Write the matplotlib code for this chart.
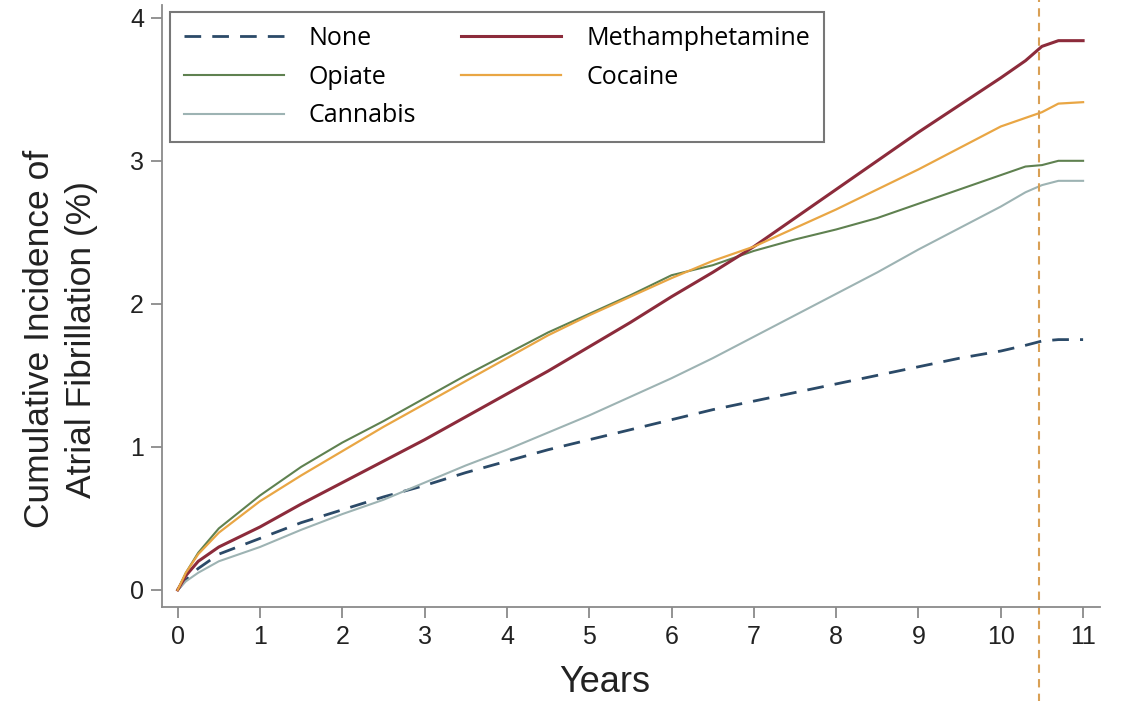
import numpy as np
import matplotlib.pyplot as plt

plt.rcParams['font.family'] = ['Liberation Sans', 'DejaVu Sans']

# years of follow-up where values were read
years = [0, 0.1, 0.25, 0.5, 1, 1.5, 2, 2.5, 3, 3.5, 4, 4.5, 5, 5.5, 6, 6.5, 7,
         7.5, 8, 8.5, 9, 9.5, 10, 10.3, 10.5, 10.7, 11]

none_ = [0, 0.07, 0.15, 0.25, 0.36, 0.47, 0.56, 0.65, 0.73, 0.82, 0.9, 0.98,
         1.05, 1.12, 1.19, 1.26, 1.32, 1.38, 1.44, 1.5, 1.56, 1.62, 1.67, 1.71, 1.74, 1.75, 1.75]
meth = [0, 0.1, 0.2, 0.3, 0.44, 0.6, 0.75, 0.9, 1.05, 1.21, 1.37, 1.53, 1.7, 1.87,
        2.05, 2.22, 2.4, 2.6, 2.8, 3.0, 3.2, 3.39, 3.58, 3.7, 3.8, 3.84, 3.84]
cocaine = [0, 0.12, 0.25, 0.4, 0.62, 0.8, 0.97, 1.14, 1.3, 1.46, 1.62, 1.78, 1.92,
           2.05, 2.18, 2.3, 2.4, 2.53, 2.66, 2.8, 2.94, 3.09, 3.24, 3.3, 3.34, 3.4, 3.41]
opiate = [0, 0.12, 0.26, 0.43, 0.66, 0.86, 1.03, 1.18, 1.34, 1.5, 1.65, 1.8, 1.93,
          2.06, 2.2, 2.27, 2.37, 2.45, 2.52, 2.6, 2.7, 2.8, 2.9, 2.96, 2.97, 3.0, 3.0]
cannabis = [0, 0.06, 0.12, 0.2, 0.3, 0.42, 0.53, 0.63, 0.75, 0.87, 0.98, 1.1, 1.22,
            1.35, 1.48, 1.62, 1.77, 1.92, 2.07, 2.22, 2.38, 2.53, 2.68, 2.78, 2.83, 2.86, 2.86]

cutoff = 10.47

fig = plt.figure(figsize=(11.22, 7.01), dpi=100)
ax = fig.add_axes([0.1444, 0.134, 0.8356, 0.859])

ax.plot(years, none_, color='#2b4a68', lw=2.0, ls=(0, (6, 4)), label='None')
ax.plot(years, opiate, color='#5f8150', lw=1.5, label='Opiate')
ax.plot(years, cannabis, color='#9db3b3', lw=1.5, label='Cannabis')
ax.plot(years, meth, color='#8c2b3b', lw=2.2, label='Methamphetamine')
ax.plot(years, cocaine, color='#e9a644', lw=1.6, label='Cocaine')

# vertical dotted marker runs over the whole figure height
ax.axvline(cutoff, ymin=-0.16, ymax=1.02, color='#d9a055', lw=1.5,
           ls=(0, (4, 3)), clip_on=False)

ax.set_xlim(-0.19, 11.2)
ax.set_ylim(-0.12, 4.09)
ax.set_xticks(range(0, 12))
ax.set_yticks(range(0, 5))
for s in ['top', 'right']:
    ax.spines[s].set_visible(False)
for s in ['left', 'bottom']:
    ax.spines[s].set_color('#8a8a8a')
    ax.spines[s].set_linewidth(1.3)
ax.tick_params(direction='out', length=8, width=1.3, color='#8a8a8a',
               labelsize=18, labelcolor='#222222', pad=5)

ax.set_xlabel('Years', fontsize=26, color='#222222')
ax.xaxis.set_label_coords(0.472, -0.097)
ax.set_ylabel('Cumulative Incidence of\nAtrial Fibrillation (%)', fontsize=25.5,
              color='#222222', linespacing=1.35)
ax.yaxis.set_label_coords(-0.068, 0.445)

leg = ax.legend(loc='upper left', bbox_to_anchor=(0.0085, 0.988), ncol=2,
                frameon=True, fancybox=False, handlelength=4.0,
                handletextpad=1.0, columnspacing=1.8, labelspacing=0.55,
                borderpad=0.55, borderaxespad=0,
                prop={'family': ['Open Sans', 'DejaVu Sans'], 'size': 18})
leg.get_frame().set_edgecolor('#555555')
leg.get_frame().set_linewidth(1.5)

fig.savefig('out.png', dpi=100)
